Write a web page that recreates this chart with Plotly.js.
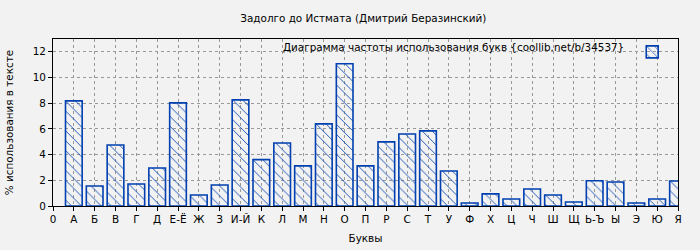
<!DOCTYPE html>
<html>
<head>
<meta charset="utf-8">
<script src="https://cdn.plot.ly/plotly-3.0.1.min.js"></script>
<style>html,body{margin:0;padding:0;background:#f2f2f2;}#chart{width:700px;height:250px;}</style>
</head>
<body>
<div id="chart"></div>
<script>
const categories = ["А","Б","В","Г","Д","Е-Ё","Ж","З","И-Й","К","Л","М","Н","О","П","Р","С","Т","У","Ф","Х","Ц","Ч","Ш","Щ","Ь-Ъ","Ы","Э","Ю","Я"];
const values = [8.18,1.56,4.75,1.71,2.96,8.03,0.86,1.64,8.26,3.61,4.91,3.12,6.39,11.07,3.12,4.99,5.61,5.85,2.73,0.23,0.94,0.55,1.32,0.86,0.31,1.97,1.87,0.23,0.55,1.95];
const tickLabels = ["0"].concat(categories);
const seriesName = "Диаграмма частоты использования букв {coollib.net/b/34537}";
const titleText = "Задолго до Истмата (Дмитрий Беразинский)";

const xPos = categories.map((c, i) => i + 1);
const tickPos = tickLabels.map((t, i) => i);
const blue = "#0040b0";

const trace = {
  type: "bar",
  x: xPos,
  y: values,
  name: "",
  width: 0.8,
  marker: {
    color: "rgba(0,0,0,0)",
    line: {color: blue, width: 1.6},
    pattern: {shape: "\\", fgcolor: blue, bgcolor: "rgba(0,0,0,0)", size: 7, solidity: 0.12, fillmode: "replace"}
  },
  showlegend: true,
  hoverinfo: "x+y"
};

const fontFam = "DejaVu Sans, sans-serif";
const fs = 10.4;
const layout = {
  width: 700, height: 250,
  paper_bgcolor: "#f2f2f2",
  plot_bgcolor: "#f2f2f2",
  margin: {l: 53, r: 22, t: 39, b: 44},
  font: {family: fontFam, size: fs, color: "#000"},
  title: {text: titleText, font: {family: fontFam, size: fs}, x: 0.519, xanchor: "center", y: 0.925, yanchor: "middle"},
  xaxis: {
    range: [0, 30],
    tickvals: tickPos,
    ticktext: tickLabels,
    tickangle: 0,
    showgrid: true,
    gridcolor: "#999",
    griddash: "dot",
    gridwidth: 1,
    ticks: "outside", ticklen: 4, tickcolor: "#000",
    showline: true, linecolor: "#000", linewidth: 1, mirror: true,
    zeroline: false,
    title: {text: "Буквы", font: {family: fontFam, size: fs}, standoff: 10},
    tickfont: {family: fontFam, size: fs}
  },
  yaxis: {
    range: [0, 13],
    dtick: 2, tick0: 0,
    showgrid: true,
    gridcolor: "#999",
    griddash: "dot",
    gridwidth: 1,
    ticks: "outside", ticklen: 4, tickcolor: "#000",
    showline: true, linecolor: "#000", linewidth: 1, mirror: true,
    zeroline: false,
    title: {text: "% использования в тексте", font: {family: fontFam, size: fs}, standoff: 17},
    tickfont: {family: fontFam, size: fs}
  },
  showlegend: true,
  legend: {
    x: 1, xanchor: "right", y: 1.01, yanchor: "top",
    bgcolor: "rgba(0,0,0,0)",
    borderwidth: 0,
    font: {family: fontFam, size: fs},
    title: {text: seriesName, side: "left", font: {family: fontFam, size: fs}},
    itemwidth: 30
  },
  bargap: 0.2
};

Plotly.newPlot("chart", [trace], layout, {displayModeBar: false, staticPlot: true});
</script>
</body>
</html>
